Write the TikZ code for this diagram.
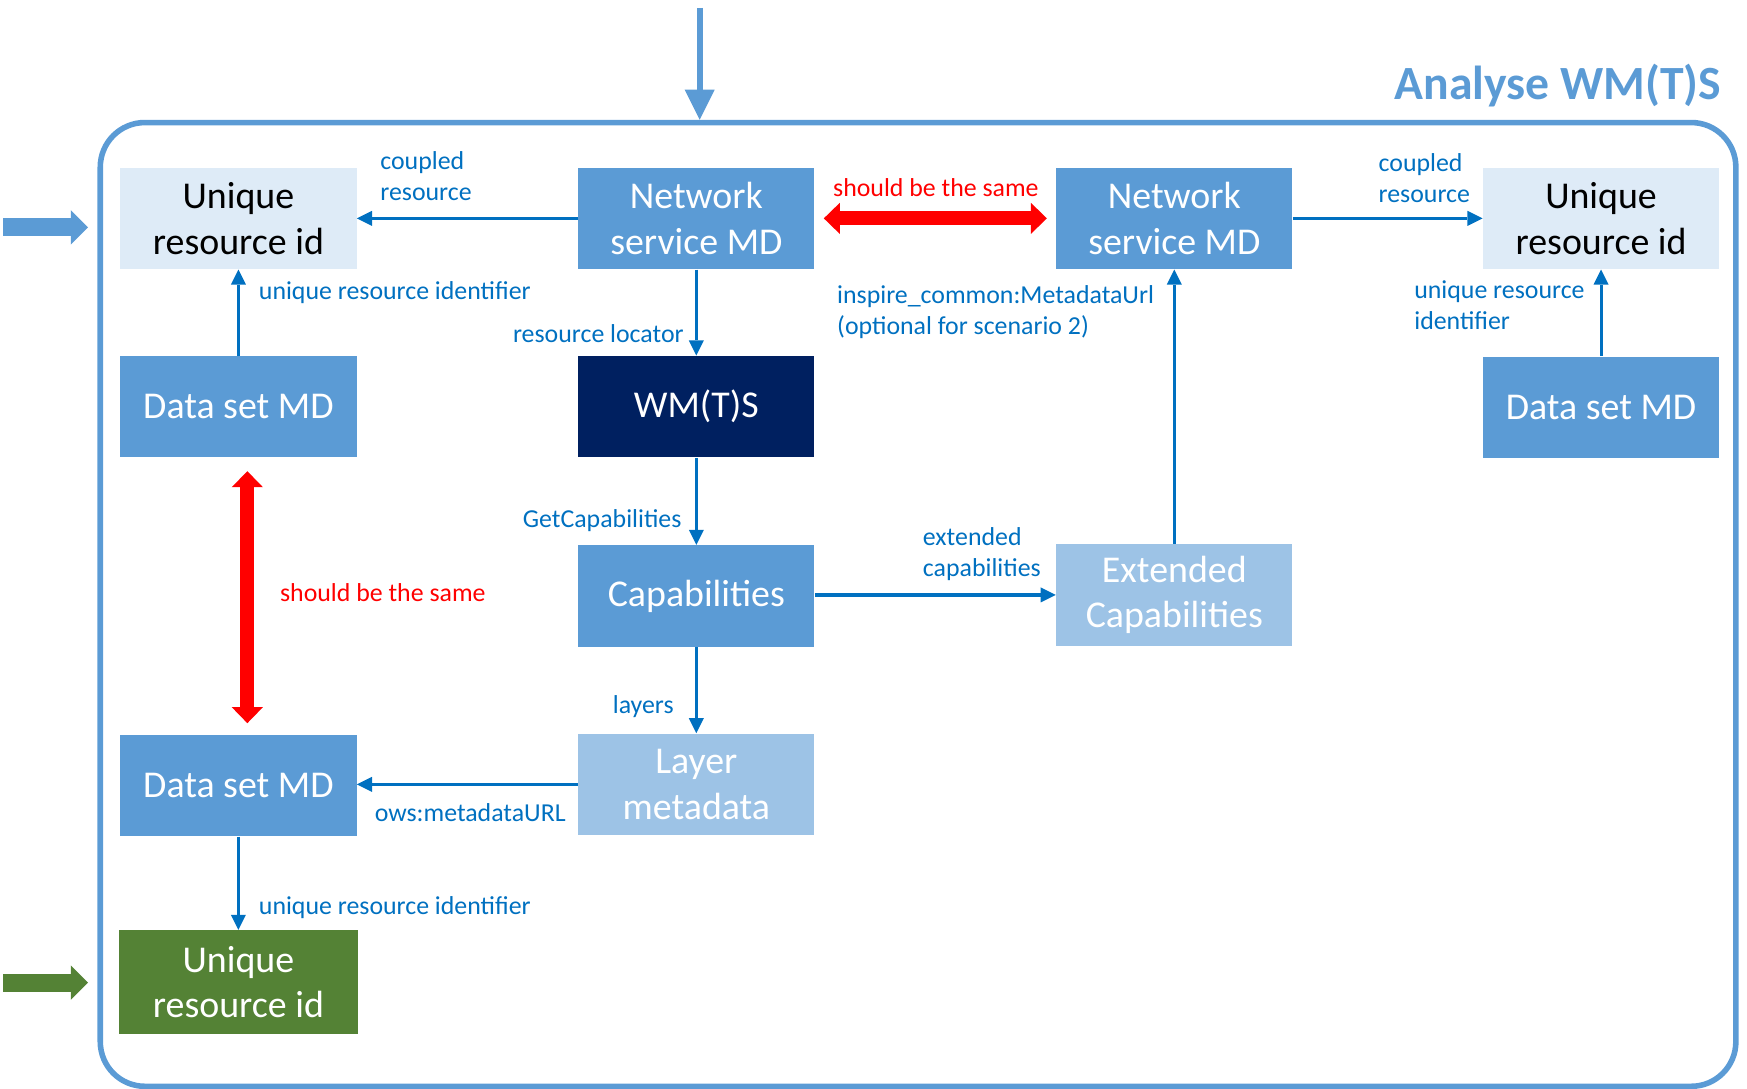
\documentclass[tikz,border=0pt]{standalone}
\usepackage{fontspec}
\setmainfont{Carlito}
\usetikzlibrary{arrows.meta}

\definecolor{MidBlue}{HTML}{5B9BD5}
\definecolor{PaleBlue}{HTML}{DEEBF7}
\definecolor{LightBlue}{HTML}{9DC3E6}
\definecolor{Navy}{HTML}{002060}
\definecolor{LeafGreen}{HTML}{548235}
\definecolor{LinkBlue}{HTML}{0070C0}
\definecolor{SameRed}{HTML}{FF0000}

\newcommand\BoxFont{\fontsize{17}{20.5}\selectfont}
\newcommand\LblFont{\fontsize{11.6}{14}\selectfont}
\newcommand\TitleFont{\bfseries\fontsize{21.4}{25}\selectfont}

\begin{document}
\begin{tikzpicture}[x=0.5pt,y=-0.5pt]

\tikzset{
  box/.style={minimum width=106pt,minimum height=45.5pt,inner sep=0pt,align=center,font=\BoxFont,text=white,fill=MidBlue},
  pale/.style={box,fill=PaleBlue,text=black},
  light/.style={box,fill=LightBlue},
  dark/.style={box,fill=Navy},
  greenbox/.style={box,fill=LeafGreen,minimum width=107pt,minimum height=46.5pt},
  link/.style={draw=LinkBlue,line width=1.4pt,-{Triangle[length=6.75pt,width=6.75pt,line width=0pt]}},
  lbl/.style={font=\LblFont,text=LinkBlue,inner sep=0pt,align=left},
  same/.style={draw=SameRed,line width=6.4pt,{Triangle[length=7.2pt,width=14pt,line width=0pt]}-{Triangle[length=7.2pt,width=14pt,line width=0pt]}},
  samelbl/.style={font=\LblFont,text=SameRed,inner sep=0pt},
  feed/.style={line width=8pt,-{Triangle[length=7.75pt,width=15.5pt,line width=0pt]}},
  wmtsframe/.style={draw=MidBlue,line width=2.5pt,rounded corners=20pt,minimum width=734pt,minimum height=432.5pt,inner sep=0pt}
}

\useasboundingbox (0,0) rectangle (1568,977);

\node[wmtsframe] (Frame) at (824,542.5) {};
\node[anchor=base east,font=\TitleFont,text=MidBlue] (Title) at (1552,89) {Analyse WM(T)S};

\coordinate (In_top) at (628,7);
\coordinate (In_left) at (3,204);
\coordinate (In_green) at (3,882);
\draw[feed,draw=MidBlue,line width=2.7pt,-{Triangle[length=13.5pt,width=13.5pt,line width=0pt]}] (In_top) -- (In_top |- Frame.north);
\draw[feed,draw=MidBlue,shorten >=4.25pt] (In_left) -- (In_left -| Frame.west);
\draw[feed,draw=LeafGreen,shorten >=4.25pt] (In_green) -- (In_green -| Frame.west);

\node[pale] (Uri_1) at (214,196) {Unique\\resource id};
\node[box] (Nsmd_1) at (625,196) {Network\\service MD};
\node[box] (Dsmd_1) at (214,365) {Data set MD};
\node[dark] (Wmts) at (625,365) {WM(T)S};
\node[box] (Cap) at (625,535) {Capabilities};
\node[light] (Layer) at (625,704) {Layer\\metadata};
\node[box] (Dsmd_2) at (214,705) {Data set MD};
\node[greenbox] (Uri_3) at (214,881.5) {Unique\\resource id};

\node[box] (Nsmd_2) at (1054,196) {Network\\service MD};
\node[light] (ExtCap) at (1054,534) {Extended\\Capabilities};
\node[pale] (Uri_2) at (1437,196) {Unique\\resource id};
\node[box] (Dsmd_3) at (1437,365.5) {Data set MD};

\draw[link] (Nsmd_1) -- (Uri_1);
\draw[link] (Dsmd_1) -- (Uri_1);
\draw[link] (Nsmd_1) -- (Wmts);
\draw[link] (Wmts) -- (Cap);
\draw[link] (Cap) -- (Layer);
\draw[link] (Layer) -- (Dsmd_2.east |- Layer);
\draw[link] (Dsmd_2) -- (Uri_3);
\draw[link] (Cap.east |- ExtCap) -- (ExtCap);
\draw[link] (ExtCap) -- (Nsmd_2);
\draw[link] (Nsmd_2) -- (Uri_2);
\draw[link] (Dsmd_3) -- (Uri_2);

\node[lbl,anchor=west] (L_coupled_1) at (341,158) {coupled\\resource};
\node[lbl,anchor=west] (L_uri_1) at (232,263) {unique resource identifier};
\node[lbl,anchor=east] (L_locator) at (614,299) {resource locator};
\node[lbl,anchor=east] (L_getcap) at (612,467) {GetCapabilities};
\node[lbl,anchor=west] (L_extcap) at (828,497) {extended\\capabilities};
\node[lbl,anchor=west] (L_mdurl) at (751,280) {inspire\_common:MetadataUrl\\(optional for scenario 2)};
\node[lbl,anchor=east] (L_layers) at (605,634) {layers};
\node[lbl,anchor=west] (L_ows) at (336,729) {ows:metadataURL};
\node[lbl,anchor=west] (L_uri_3) at (232,815) {unique resource identifier};
\node[lbl,anchor=west] (L_coupled_2) at (1237,160) {coupled\\resource};
\node[lbl,anchor=west] (L_uri_2) at (1269,274) {unique resource\\identifier};

\draw[same,shorten <=4pt,shorten >=4pt] (Nsmd_1) -- (Nsmd_2);
\node[samelbl,anchor=base] (S_top) at (840,176) {should be the same};
\draw[same,shorten <=6pt,shorten >=5pt] ([xshift=4pt]Dsmd_1.south) -- ([xshift=4pt]Dsmd_2.north);
\node[samelbl,anchor=base west] (S_left) at (251,540) {should be the same};

\end{tikzpicture}
\end{document}
